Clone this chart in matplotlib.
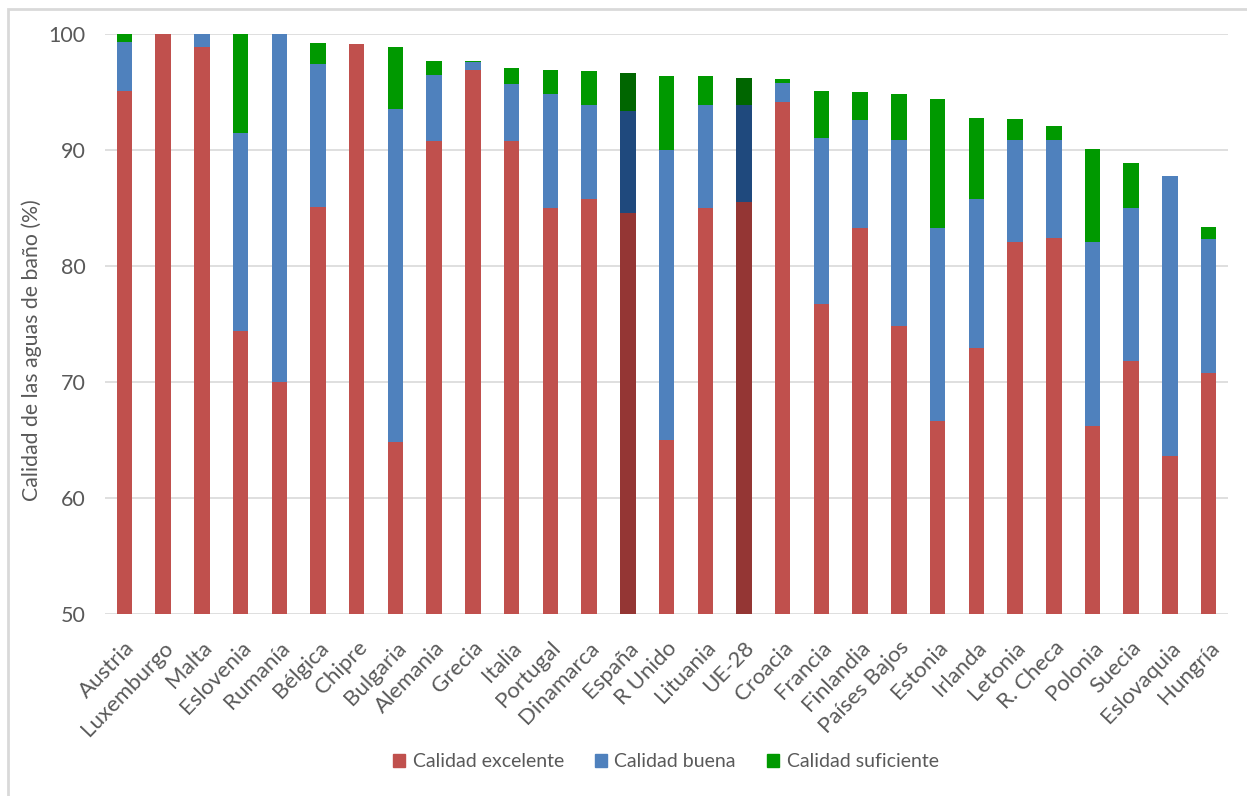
import numpy as np
import matplotlib
matplotlib.use("Agg")
import matplotlib.pyplot as plt
from matplotlib.patches import Patch, Rectangle

plt.rcParams["font.family"] = ["Lato", "DejaVu Sans"]

# countries sorted by total share of bathing water quality
countries = ["Austria", "Luxemburgo", "Malta", "Eslovenia", "Rumanía", "Bélgica", "Chipre",
             "Bulgaria", "Alemania", "Grecia", "Italia", "Portugal", "Dinamarca", "España",
             "R Unido", "Lituania", "UE-28", "Croacia", "Francia", "Finlandia", "Países Bajos",
             "Estonia", "Irlanda", "Letonia", "R. Checa", "Polonia", "Suecia", "Eslovaquia",
             "Hungría"]

# % of bathing waters per class
excelente = [95.1, 100.0, 98.9, 74.4, 70.0, 85.1, 99.1, 64.8, 90.8, 96.9, 90.8, 85.0, 85.8, 84.6,
             65.0, 85.0, 85.5, 94.1, 76.7, 83.3, 74.8, 66.6, 72.9, 82.1, 82.4, 66.2, 71.8, 63.6, 70.8]
buena = [4.2, 0.0, 1.1, 17.1, 30.0, 12.3, 0.0, 28.7, 5.7, 0.7, 4.9, 9.8, 8.1, 8.8,
         25.0, 8.9, 8.4, 1.7, 14.3, 9.3, 16.1, 16.7, 12.9, 8.8, 8.5, 15.9, 13.2, 24.2, 11.5]
suficiente = [0.7, 0.0, 0.0, 8.5, 0.0, 1.8, 0.0, 5.4, 1.2, 0.1, 1.4, 2.1, 2.9, 3.2,
              6.4, 2.5, 2.3, 0.3, 4.1, 2.4, 3.9, 11.1, 7.0, 1.8, 1.2, 8.0, 3.9, 0.0, 1.1]

highlight = ["España", "UE-28"]

red, blue, green = "#C0504D", "#4F81BD", "#009900"
red_dk, blue_dk, green_dk = "#943634", "#1F497D", "#006600"
text_col = "#595959"

x = np.arange(len(countries))
exc = np.array(excelente)
bue = np.array(buena)
suf = np.array(suficiente)

#darker colours for Spain and EU average
is_hl = np.array([c in highlight for c in countries])
c_exc = [red_dk if h else red for h in is_hl]
c_bue = [blue_dk if h else blue for h in is_hl]
c_suf = [green_dk if h else green for h in is_hl]

fig = plt.figure(figsize=(12.47, 7.96), dpi=100)
ax = fig.add_axes([0.0842, 0.2286, 0.9006, 0.7287])

w = 0.4
ax.bar(x, exc, w, color=c_exc, zorder=3)
ax.bar(x, bue, w, bottom=exc, color=c_bue, zorder=3)
ax.bar(x, suf, w, bottom=exc + bue, color=c_suf, zorder=3)

ax.set_ylim(50, 100)
ax.set_xlim(-0.5, len(countries) - 0.5)
ax.set_yticks([50, 60, 70, 80, 90, 100])
ax.yaxis.grid(True, color="#D9D9D9", linewidth=1.2, zorder=0)
ax.set_axisbelow(True)
for s in ax.spines.values():
    s.set_visible(False)

ax.tick_params(axis="y", length=0, pad=14, labelsize=15.5, labelcolor=text_col)
ax.tick_params(axis="x", length=0, pad=17, labelsize=16, labelcolor=text_col)
ax.set_xticks(x)
ax.set_xticklabels(countries, rotation=46, ha="right", rotation_mode="anchor")

#y title placed by hand, as in the original it sits a bit lower than the axis centre
fig.text(32 / 1247, 1 - 350 / 796, "Calidad de las aguas de baño (%)", rotation=90,
         ha="center", va="center", fontsize=15.3, color=text_col)

handles = [Patch(color=red, label="Calidad excelente"),
           Patch(color=blue, label="Calidad buena"),
           Patch(color=green, label="Calidad suficiente")]
fig.legend(handles=handles, loc="center", bbox_to_anchor=(0.534, 0.043), ncol=3, frameon=False,
           fontsize=14, handlelength=0.6, handleheight=0.6, handletextpad=0.4,
           columnspacing=1.6, labelcolor=text_col)

#chart frame like the original (only top/left visible)
fig.patches.append(Rectangle((0.0064, -0.05), 1.1, 1.0 - 0.0113 + 0.05, transform=fig.transFigure,
                             fill=False, edgecolor="#D9D9D9", linewidth=2))

fig.savefig("out.png", dpi=100)
